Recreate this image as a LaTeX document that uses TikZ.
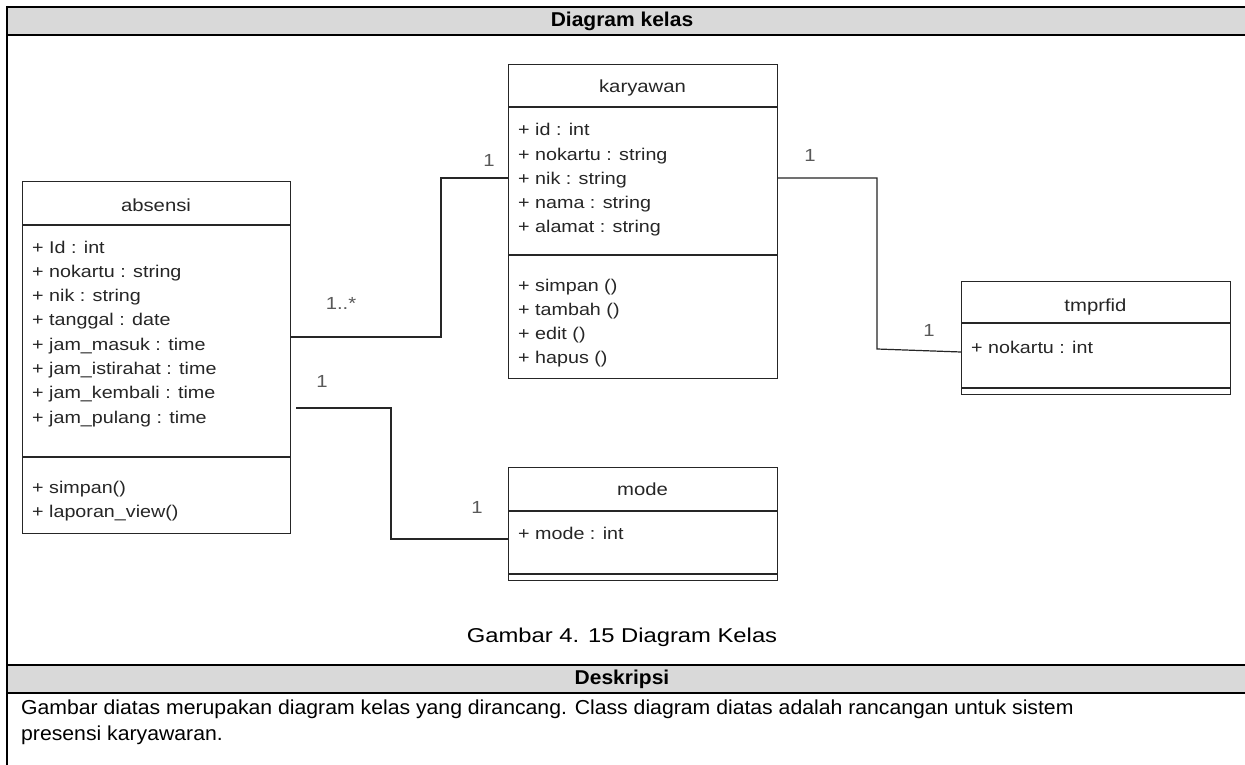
\documentclass[tikz,border=0pt]{standalone}
\usepackage{fontspec}
\setmainfont{Liberation Sans}
\newfontfamily\umlfont{Liberation Sans}[FakeStretch=1.16]
\newfontfamily\docfont{Liberation Sans}[FakeStretch=1.05]
\newfontfamily\capfont{Liberation Sans}[FakeStretch=1.19]
\begin{document}
\begin{tikzpicture}[x=1pt,y=-1pt,
  tablerule/.style={line width=2.2pt, black},
  classbox/.style={draw=black!85, line width=1.2pt, rectangle, anchor=north west, inner sep=0pt},
  clsname/.style={font=\umlfont\fontsize{17.5}{20}\selectfont, text=black!85, anchor=base, inner sep=0pt},
  memberline/.style={font=\umlfont\fontsize{17}{20}\selectfont, text=black!85, anchor=base west, inner sep=0pt},
  mult/.style={font=\umlfont\fontsize{17.5}{20}\selectfont, text=black!65, inner sep=0pt},
  assoc/.style={draw=black!85, line width=1.2pt},
  hdrtext/.style={font=\docfont\bfseries\fontsize{20}{22}\selectfont, inner sep=0pt},
  bodytext/.style={font=\docfont\fontsize{20.2}{27}\selectfont, inner sep=0pt},
  captext/.style={font=\capfont\fontsize{20}{24}\selectfont, inner sep=0pt}]
\useasboundingbox (0,0) rectangle (1245,765);
\fill[white] (0,0) rectangle (1245,765);

% table: header bands and rules
\fill[black!15] (7,7) rectangle (1250,35);
\fill[black!15] (7,665) rectangle (1250,693);
\draw[tablerule] (7,7) -- (1250,7);
\draw[tablerule] (7,35) -- (1250,35);
\draw[tablerule] (7,665) -- (1250,665);
\draw[tablerule] (7,693) -- (1250,693);
\draw[tablerule] (7,6) -- (7,770);
\node[hdrtext] (hdr1) at (622,21) {Diagram kelas};
\node[hdrtext] (hdr2) at (622,679) {Deskripsi};

% class: absensi
\node[classbox, minimum width=268pt, minimum height=352pt] (absensi) at (22,181) {};
\draw[assoc] (absensi.west |- 0,225) -- (absensi.east |- 0,225);
\draw[assoc] (absensi.west |- 0,457) -- (absensi.east |- 0,457);
\node[clsname] (absensiT) at (156,211) {absensi};
\foreach \t [count=\i] in {+ Id : int, + nokartu : string, + nik : string, + tanggal : date,
  + jam\_masuk : time, + jam\_istirahat : time, + jam\_kembali : time, + jam\_pulang : time}
  \node[memberline, name=absA\i] at ({32},{253+24.3*(\i-1)}) {\t};
\foreach \t [count=\i] in {+ simpan(), + laporan\_view()}
  \node[memberline, name=absM\i] at ({32},{493+24*(\i-1)}) {\t};

% class: karyawan
\node[classbox, minimum width=269pt, minimum height=314pt] (karyawan) at (508,64) {};
\draw[assoc] (karyawan.west |- 0,107) -- (karyawan.east |- 0,107);
\draw[assoc] (karyawan.west |- 0,255) -- (karyawan.east |- 0,255);
\node[clsname] (karyawanT) at (642.5,93) {karyawan};
\foreach \t [count=\i] in {+ id : int, + nokartu : string, + nik : string, + nama : string, + alamat : string}
  \node[memberline, name=karA\i] at ({518},{136+24.2*(\i-1)}) {\t};
\foreach \t [count=\i] in {+ simpan (), + tambah (), + edit (), + hapus ()}
  \node[memberline, name=karM\i] at ({518},{291+24*(\i-1)}) {\t};

% class: tmprfid
\node[classbox, minimum width=269pt, minimum height=113pt] (tmprfid) at (961,281) {};
\draw[assoc] (tmprfid.west |- 0,323) -- (tmprfid.east |- 0,323);
\draw[assoc] (tmprfid.west |- 0,388) -- (tmprfid.east |- 0,388);
\node[clsname] (tmprfidT) at (1095.5,311) {tmprfid};
\node[memberline] (tmpA1) at (971,353) {+ nokartu : int};

% class: mode
\node[classbox, minimum width=269pt, minimum height=113pt] (mode) at (508,467) {};
\draw[assoc] (mode.west |- 0,511) -- (mode.east |- 0,511);
\draw[assoc] (mode.west |- 0,574) -- (mode.east |- 0,574);
\node[clsname] (modeT) at (642.5,495) {mode};
\node[memberline] (modeA1) at (518,539) {+ mode : int};

% associations
\draw[assoc] (absensi.east |- 0,337) -| (441,178) -- (karyawan.west |- 0,178);
\draw[assoc] (karyawan.east |- 0,178) -| (877,349) -- (tmprfid.west |- 0,352);
\coordinate (modeStart) at (296,408);
\draw[assoc] (modeStart) -| (391,539) -- (mode.west |- 0,539);

% multiplicities
\node[mult] (m1) at (341,303) {1..*};
\node[mult] (m2) at (489,160) {1};
\node[mult] (m3) at (810,155) {1};
\node[mult] (m4) at (929,330) {1};
\node[mult] (m5) at (322,381) {1};
\node[mult] (m6) at (477,507) {1};

% caption and description
\node[captext] (caption) at (622,637) {Gambar 4. 15 Diagram Kelas};
\node[bodytext, anchor=west] (desc1) at (21,709) {Gambar diatas merupakan diagram kelas yang dirancang. Class diagram diatas adalah rancangan untuk sistem};
\node[bodytext, anchor=west] (desc2) at (21,735) {presensi karyawaran.};
\end{tikzpicture}
\end{document}
